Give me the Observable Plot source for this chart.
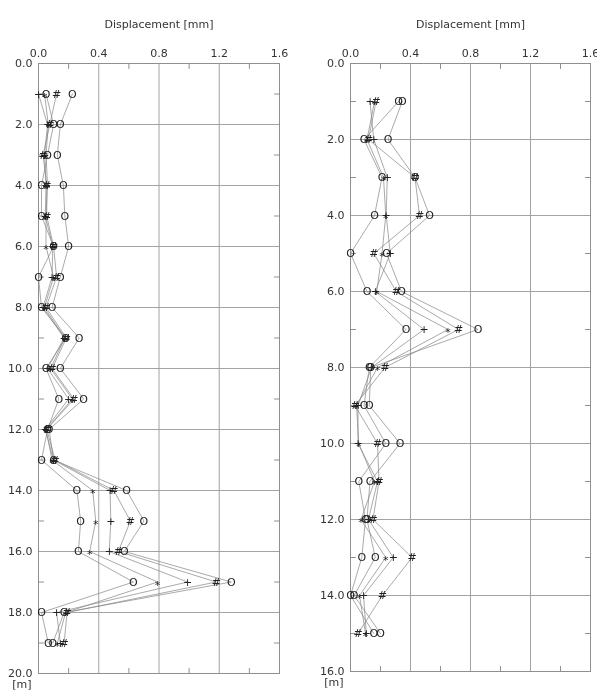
<!DOCTYPE html>
<html>
<head>
<meta charset="utf-8">
<script src="https://cdn.jsdelivr.net/npm/d3@7"></script>
<script src="https://cdn.jsdelivr.net/npm/@observablehq/plot@0.6"></script>
<style>
  html, body { margin: 0; padding: 0; background: #fff; }
  #chart { position: relative; width: 597px; height: 693px; font-family: "DejaVu Sans", Verdana, sans-serif; }
  #chart svg { position: absolute; top: 0; will-change: transform; }
</style>
</head>
<body>
<div id="chart"></div>
<script>
// Inclinometer readings, borehole A (0–20 m)
const leftDepth   = [1, 2, 3, 4, 5, 6, 7, 8, 9, 10, 11, 12, 13, 14, 15, 16, 17, 18, 19];
const leftCircleA = [0.05, 0.10, 0.06, 0.02, 0.02, 0.10, 0.00, 0.02, 0.18, 0.05, 0.135, 0.06, 0.02, 0.255, 0.28, 0.265, 0.63, 0.02, 0.065];
const leftStar    = [0.04, 0.065, 0.05, 0.06, 0.05, 0.05, 0.10, 0.04, 0.175, 0.08, 0.225, 0.05, 0.09, 0.36, 0.38, 0.34, 0.79, 0.18, 0.125];
const leftPlus    = [0.00, 0.06, 0.04, 0.05, 0.045, 0.095, 0.09, 0.03, 0.17, 0.06, 0.20, 0.045, 0.10, 0.475, 0.48, 0.47, 0.99, 0.12, 0.145];
const leftHash    = [0.12, 0.075, 0.03, 0.055, 0.055, 0.10, 0.12, 0.05, 0.185, 0.09, 0.235, 0.055, 0.11, 0.50, 0.61, 0.53, 1.18, 0.19, 0.17];
const leftCircleB = [0.225, 0.145, 0.125, 0.165, 0.175, 0.20, 0.145, 0.09, 0.27, 0.145, 0.30, 0.07, 0.10, 0.585, 0.70, 0.57, 1.28, 0.17, 0.095];

// Inclinometer readings, borehole B (0–16 m)
const rightDepth   = [1, 2, 3, 4, 5, 6, 7, 8, 9, 10, 11, 12, 13, 14, 15];
const rightCircleA = [0.32, 0.09, 0.21, 0.16, 0.00, 0.11, 0.37, 0.125, 0.09, 0.235, 0.055, 0.10, 0.075, 0.00, 0.155];
const rightStar    = [0.16, 0.11, 0.22, 0.235, 0.21, 0.175, 0.65, 0.18, 0.04, 0.055, 0.16, 0.07, 0.235, 0.06, 0.10];
const rightPlus    = [0.13, 0.155, 0.245, 0.238, 0.265, 0.165, 0.49, 0.14, 0.05, 0.05, 0.18, 0.12, 0.285, 0.087, 0.105];
const rightHash    = [0.17, 0.12, 0.43, 0.46, 0.156, 0.305, 0.72, 0.23, 0.03, 0.18, 0.19, 0.15, 0.41, 0.213, 0.05];
const rightCircleB = [0.345, 0.25, 0.43, 0.527, 0.24, 0.34, 0.85, 0.135, 0.125, 0.33, 0.13, 0.11, 0.165, 0.024, 0.20];

// Axis ticks and labels
const xTicks = [0, 0.4, 0.8, 1.2, 1.6];
const xMinorTicks = [0.2, 0.6, 1.0, 1.4];
const leftYTicks = [0, 2, 4, 6, 8, 10, 12, 14, 16, 18, 20];
const leftYMinor = [1, 3, 5, 7, 9, 11, 13, 15, 17, 19];
const rightYTicks = [0, 2, 4, 6, 8, 10, 12, 14, 16];
const rightYMinor = [1, 3, 5, 7, 9, 11, 13, 15];
const xTitle = "Displacement [mm]";
const yUnit = "[m]";

// Plot symbol used for each reading
const glyphs = {circleA: "O", star: "*", plus: "+", hash: "#", circleB: "O"};

function rowsFor(depth, seriesByKey) {
  const rows = [];
  for (const [key, values] of Object.entries(seriesByKey)) {
    values.forEach((v, i) => rows.push({series: key, glyph: glyphs[key], depth: depth[i], value: v}));
  }
  return rows;
}

const fmt = d3.format(".1f");
const frameColor = "#8f8f8f";
const gridColor = "#a3a3a3";
const labelColor = "#333";
const tickShape = {draw(context, l) { context.moveTo(0, 0); context.lineTo(0, -l); }};

function panel({rows, yMax, yTicks, yMinor, width, marginLeft, marginRight, marginBottom}) {
  const minor = (data, axis, frameAnchor, rotate) =>
    Plot.vector(data, {
      [axis]: d => d, frameAnchor, rotate, length: 5, anchor: "start",
      shape: tickShape, stroke: frameColor, strokeWidth: 1
    });
  return Plot.plot({
    width, height: 693,
    marginTop: 63, marginBottom, marginLeft, marginRight,
    style: {fontFamily: "'DejaVu Sans', Verdana, sans-serif", background: "transparent", overflow: "visible"},
    x: {domain: [0, 1.6]},
    y: {domain: [0, yMax], reverse: true},
    marks: [
      Plot.gridX(xTicks, {stroke: gridColor, strokeOpacity: 1, strokeWidth: 1}),
      Plot.gridY(yTicks, {stroke: gridColor, strokeOpacity: 1, strokeWidth: 1}),
      Plot.frame({stroke: frameColor, strokeWidth: 1}),
      minor(xMinorTicks, "x", "top", 180),
      minor(xMinorTicks, "x", "bottom", 0),
      minor(yMinor, "y", "left", 90),
      minor(yMinor, "y", "right", -90),
      Plot.line(rows, {x: "value", y: "depth", z: "series", stroke: "#858585", strokeWidth: 0.7}),
      Plot.text(rows.filter(d => d.glyph !== "*"), {x: "value", y: "depth", text: "glyph", fontSize: 11, fill: "#222"}),
      Plot.text(rows.filter(d => d.glyph === "*"), {x: "value", y: "depth", text: "glyph", fontSize: 11, dy: 3, fill: "#222"}),
      Plot.axisX({anchor: "top", ticks: xTicks, tickFormat: fmt, tickSize: 0, tickPadding: 7, fontSize: 11, fill: labelColor, label: null}),
      Plot.axisY({anchor: "left", ticks: yTicks, tickFormat: fmt, tickSize: 0, tickPadding: 6, fontSize: 11, fill: labelColor, label: null}),
      Plot.text([xTitle], {text: d => d, frameAnchor: "top", dy: -43, fontSize: 11, fill: labelColor}),
      Plot.text([yUnit], {text: d => d, frameAnchor: "bottom-left", textAnchor: "end", dx: -7, dy: 14, fontSize: 11, fill: labelColor})
    ]
  });
}

const left = panel({
  rows: rowsFor(leftDepth, {circleA: leftCircleA, star: leftStar, plus: leftPlus, hash: leftHash, circleB: leftCircleB}),
  yMax: 20, yTicks: leftYTicks, yMinor: leftYMinor,
  width: 297, marginLeft: 38, marginRight: 18, marginBottom: 20
});
const right = panel({
  rows: rowsFor(rightDepth, {circleA: rightCircleA, star: rightStar, plus: rightPlus, hash: rightHash, circleB: rightCircleB}),
  yMax: 16, yTicks: rightYTicks, yMinor: rightYMinor,
  width: 300, marginLeft: 53, marginRight: 7, marginBottom: 22
});
left.style.left = "0px";
right.style.left = "297px";
document.getElementById("chart").append(left, right);
</script>
</body>
</html>
